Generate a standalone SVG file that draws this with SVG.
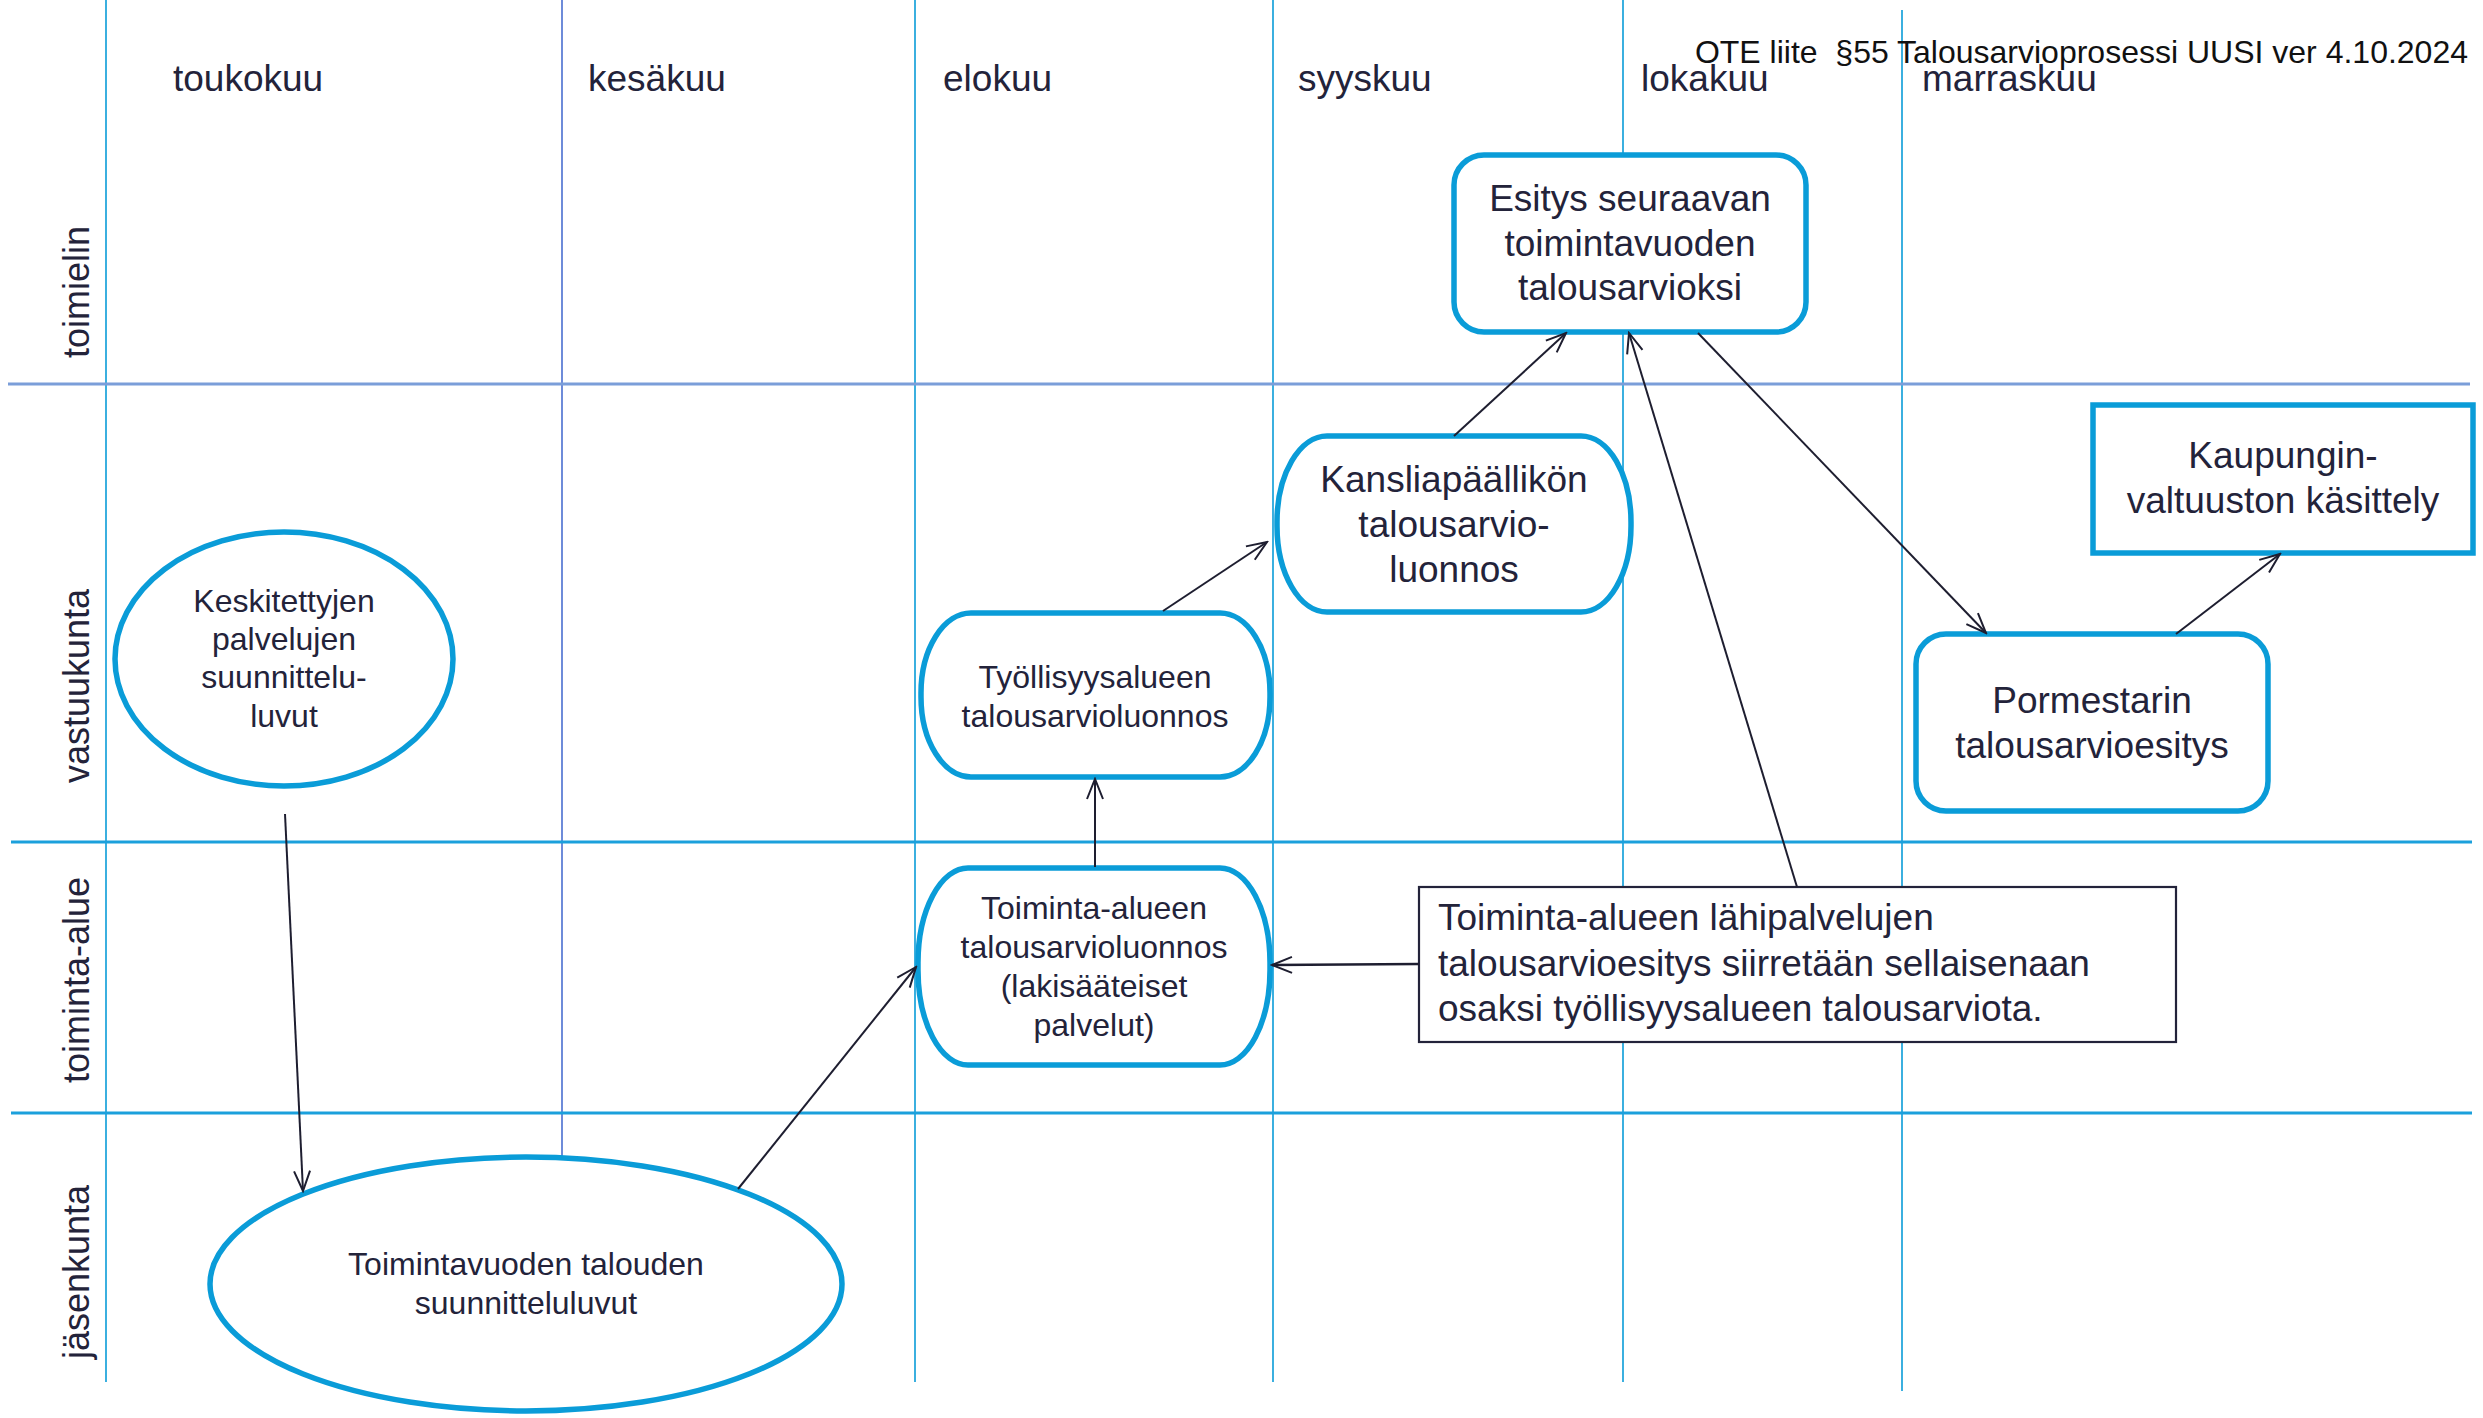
<svg xmlns="http://www.w3.org/2000/svg" width="2483" height="1418" viewBox="0 0 2483 1418">
<defs>
<style>
.t{font-family:"Liberation Sans",Arial,sans-serif;fill:#23233a}
.m{font-size:37px}
.r{font-size:36px}
.n{font-size:37px;text-anchor:middle}
.s{font-size:32px;text-anchor:middle}
.node{fill:#fff;stroke:#0a9cd8;stroke-width:5.5}
.vl{stroke:#0a9cd8;stroke-width:1.6;fill:none}
.hl{stroke:#1ba0dc;stroke-width:3;fill:none}
.c{stroke:#1e1e30;stroke-width:2;fill:none;marker-end:url(#arr)}
</style>
<marker id="arr" markerWidth="24" markerHeight="20" refX="22" refY="10" orient="auto" markerUnits="userSpaceOnUse">
<path d="M2,2 L22,10 L2,18" fill="none" stroke="#1e1e30" stroke-width="2"/>
</marker>
</defs>
<rect width="2483" height="1418" fill="#fff"/>
<g id="grid">
<line class="vl" x1="106" y1="0" x2="106" y2="1382"/>
<line class="vl" x1="562" y1="0" x2="562" y2="1200" style="stroke:#4a6fd0"/>
<line class="vl" x1="915" y1="0" x2="915" y2="1382"/>
<line class="vl" x1="1273" y1="0" x2="1273" y2="1382"/>
<line class="vl" x1="1623" y1="0" x2="1623" y2="1382"/>
<line class="vl" x1="1902" y1="10" x2="1902" y2="1391"/>
<line class="hl" x1="8" y1="384" x2="2470" y2="384" style="stroke:#7b9ed9"/>
<line class="hl" x1="11" y1="842" x2="2472" y2="842"/>
<line class="hl" x1="11" y1="1113" x2="2472" y2="1113"/>
</g>
<g id="headers">
<text class="t m" x="173" y="91">toukokuu</text>
<text class="t m" x="588" y="91">kesäkuu</text>
<text class="t m" x="943" y="91">elokuu</text>
<text class="t m" x="1298" y="91">syyskuu</text>
<text class="t m" x="1641" y="91">lokakuu</text>
<text class="t m" x="1922" y="91">marraskuu</text>
<text class="t" x="2468" y="63" style="font-size:32px;text-anchor:end;fill:#111;white-space:pre">OTE liite  §55 Talousarvioprosessi UUSI ver 4.10.2024</text>
</g>
<g id="rows">
<text class="t r" transform="translate(89,292) rotate(-90)" text-anchor="middle">toimielin</text>
<text class="t r" transform="translate(89,686) rotate(-90)" text-anchor="middle">vastuukunta</text>
<text class="t r" transform="translate(89,980) rotate(-90)" text-anchor="middle">toiminta-alue</text>
<text class="t r" transform="translate(89,1272) rotate(-90)" text-anchor="middle">jäsenkunta</text>
</g>
<g id="node-keskitettyjen">
<ellipse class="node" cx="284" cy="659" rx="169" ry="127"/>
<text class="t s" x="284" y="612">Keskitettyjen<tspan x="284" y="650">palvelujen</tspan><tspan x="284" y="688">suunnittelu-</tspan><tspan x="284" y="727">luvut</tspan></text>
</g>
<g id="node-toimintavuoden">
<ellipse class="node" cx="526" cy="1284" rx="316" ry="127"/>
<text class="t s" x="526" y="1275">Toimintavuoden talouden<tspan x="526" y="1314">suunnitteluluvut</tspan></text>
</g>
<g id="node-toiminta-alueen">
<rect class="node" x="918" y="868" width="352" height="197" rx="50" ry="95"/>
<text class="t s" x="1094" y="919">Toiminta-alueen<tspan x="1094" y="958">talousarvioluonnos</tspan><tspan x="1094" y="997">(lakisääteiset</tspan><tspan x="1094" y="1036">palvelut)</tspan></text>
</g>
<g id="node-tyollisyys">
<rect class="node" x="921" y="613" width="349" height="164" rx="50" ry="80"/>
<text class="t s" x="1095" y="688">Työllisyysalueen<tspan x="1095" y="727">talousarvioluonnos</tspan></text>
</g>
<g id="node-kansliapaallikko">
<rect class="node" x="1277" y="436" width="354" height="176" rx="50" ry="86"/>
<text class="t n" x="1454" y="492">Kansliapäällikön<tspan x="1454" y="537">talousarvio-</tspan><tspan x="1454" y="582">luonnos</tspan></text>
</g>
<g id="node-esitys">
<rect class="node" x="1454" y="155" width="352" height="177" rx="30" ry="30"/>
<text class="t n" x="1630" y="211">Esitys seuraavan<tspan x="1630" y="256">toimintavuoden</tspan><tspan x="1630" y="300">talousarvioksi</tspan></text>
</g>
<g id="node-pormestari">
<rect class="node" x="1916" y="634" width="352" height="177" rx="30" ry="30"/>
<text class="t n" x="2092" y="713">Pormestarin<tspan x="2092" y="758">talousarvioesitys</tspan></text>
</g>
<g id="node-kaupunginvaltuusto">
<rect class="node" x="2093" y="405" width="380" height="148"/>
<text class="t n" x="2283" y="468">Kaupungin-<tspan x="2283" y="513">valtuuston käsittely</tspan></text>
</g>
<g id="node-note">
<rect x="1419" y="887" width="757" height="155" fill="#fff" stroke="#23233a" stroke-width="2.2"/>
<text class="t m" x="1438" y="930">Toiminta-alueen lähipalvelujen<tspan x="1438" y="976">talousarvioesitys siirretään sellaisenaan</tspan><tspan x="1438" y="1021">osaksi työllisyysalueen talousarviota.</tspan></text>
</g>
<g id="connectors">
<line class="c" x1="285" y1="814" x2="303" y2="1191"/>
<line class="c" x1="738" y1="1189" x2="916" y2="967"/>
<line class="c" x1="1095" y1="867" x2="1095" y2="779"/>
<line class="c" x1="1163" y1="611" x2="1267" y2="542"/>
<line class="c" x1="1454" y1="436" x2="1566" y2="333"/>
<line class="c" x1="1797" y1="887" x2="1629" y2="333"/>
<line class="c" x1="1698" y1="333" x2="1986" y2="633"/>
<line class="c" x1="2176" y1="634" x2="2280" y2="554"/>
<line class="c" x1="1419" y1="964" x2="1272" y2="965" style="stroke-width:2.6"/>
</g>
</svg>
